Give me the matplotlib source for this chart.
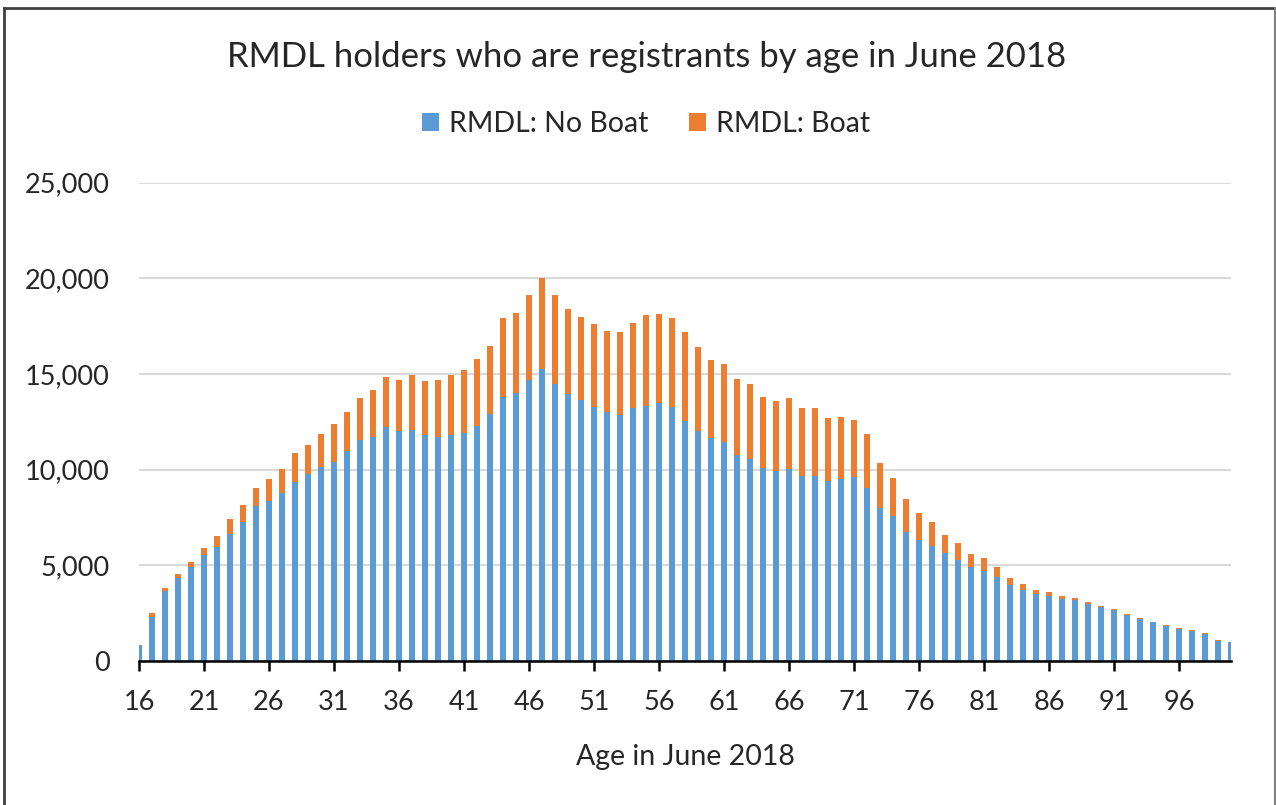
import matplotlib
matplotlib.use("Agg")
import matplotlib.pyplot as plt
from matplotlib.lines import Line2D
from matplotlib.ticker import FuncFormatter

ages = list(range(16, 101))
no_boat = [800, 2300, 3660, 4305, 4880, 5508, 5961, 6623, 7268, 8105,
           8366, 8785, 9360, 9761, 10109, 10406, 10964, 11539, 11713, 12236,
           12027, 12062, 11800, 11713, 11800, 11887, 12288, 12881, 13805, 13979,
           14676, 15251, 14467, 13927, 13630, 13282, 13020, 12846, 13195, 13317,
           13456, 13247, 12532, 12009, 11626, 11417, 10754, 10545, 10057, 9935,
           10005, 9674, 9656, 9412, 9482, 9621, 9011, 7966, 7565, 6711,
           6310, 5996, 5647, 5264, 4880, 4706, 4392, 3957, 3695, 3469,
           3381, 3207, 3172, 2946, 2789, 2649, 2388, 2196, 2004, 1830,
           1673, 1551, 1377, 1046, 959]
boat = [0, 175, 157, 209, 297, 401, 558, 767, 854, 941,
        1134, 1255, 1482, 1534, 1726, 1952, 2056, 2213, 2440, 2580,
        2649, 2876, 2824, 2963, 3138, 3312, 3504, 3590, 4130, 4183,
        4445, 4741, 4654, 4444, 4358, 4305, 4236, 4340, 4444, 4740,
        4654, 4671, 4654, 4375, 4096, 4096, 3974, 3905, 3748, 3660,
        3730, 3521, 3539, 3295, 3260, 2981, 2841, 2387, 1969, 1743,
        1394, 1237, 924, 871, 680, 680, 523, 383, 296, 226,
        192, 174, 122, 104, 70, 70, 52, 35, 35, 35,
        35, 35, 52, 35, 35]
tick_ages = list(range(16, 100, 5))
series_names = ["RMDL: No Boat", "RMDL: Boat"]
colors = ["#5B9BD5", "#ED7D31"]

FONT = ["Lato", "DejaVu Sans"]
plt.rcParams['font.family'] = FONT
TXT = "#262626"

fig = plt.figure(figsize=(12.76, 8.05), dpi=100)
W, H = 1276, 805
ax = fig.add_axes([139 / W, 1 - 660.7 / H, (1231 - 139) / W, (660.7 - 182.7) / H])

ax.bar(ages, no_boat, width=0.46, color=colors[0], label=series_names[0], zorder=2)
ax.bar(ages, boat, width=0.46, bottom=no_boat, color=colors[1], label=series_names[1], zorder=2)

ax.set_xlim(16, 100)
ax.set_ylim(0, 25000)
ax.set_yticks(range(0, 25001, 5000))
ax.yaxis.set_major_formatter(FuncFormatter(lambda v, p: f"{int(v):,}"))
ax.set_xticks(tick_ages)
ax.set_xticklabels([str(a) for a in tick_ages])
ax.grid(axis="y", color="#d9d9d9", lw=1.5, zorder=0)
ax.set_axisbelow(True)
for s in ["left", "right", "top"]:
    ax.spines[s].set_visible(False)
ax.spines["bottom"].set_color("black")
ax.spines["bottom"].set_linewidth(1.8)
ax.spines["bottom"].set_zorder(3)
ax.tick_params(axis="y", length=0, pad=21, labelsize=19.5, labelcolor=TXT)
ax.tick_params(axis="x", length=7, width=1.8, direction="out", pad=14, labelsize=19.5, labelcolor=TXT)
ax.set_xlabel("Age in June 2018", fontsize=20.5, color=TXT, labelpad=21)

fig.text(647 / W, 1 - 57 / H, "RMDL holders who are registrants by age in June 2018",
         ha="center", va="center", fontsize=25, color=TXT)

fig.legend(loc="center", bbox_to_anchor=(646 / W, 1 - 124 / H), ncol=2, frameon=False,
           fontsize=20.5, handlelength=0.6, handleheight=0.6, handletextpad=0.35,
           columnspacing=1.4, labelcolor=TXT)

bc = "#404040"
fig.add_artist(Line2D([4 / W, 4 / W], [0, 1 - 8 / H], transform=fig.transFigure, color=bc, lw=2))
fig.add_artist(Line2D([4 / W, 1274.5 / W], [1 - 8 / H, 1 - 8 / H], transform=fig.transFigure, color=bc, lw=2))
fig.add_artist(Line2D([1274.5 / W, 1274.5 / W], [0, 1 - 8 / H], transform=fig.transFigure, color="#808080", lw=1.5))

fig.savefig("out.png", dpi=100, facecolor="white")
